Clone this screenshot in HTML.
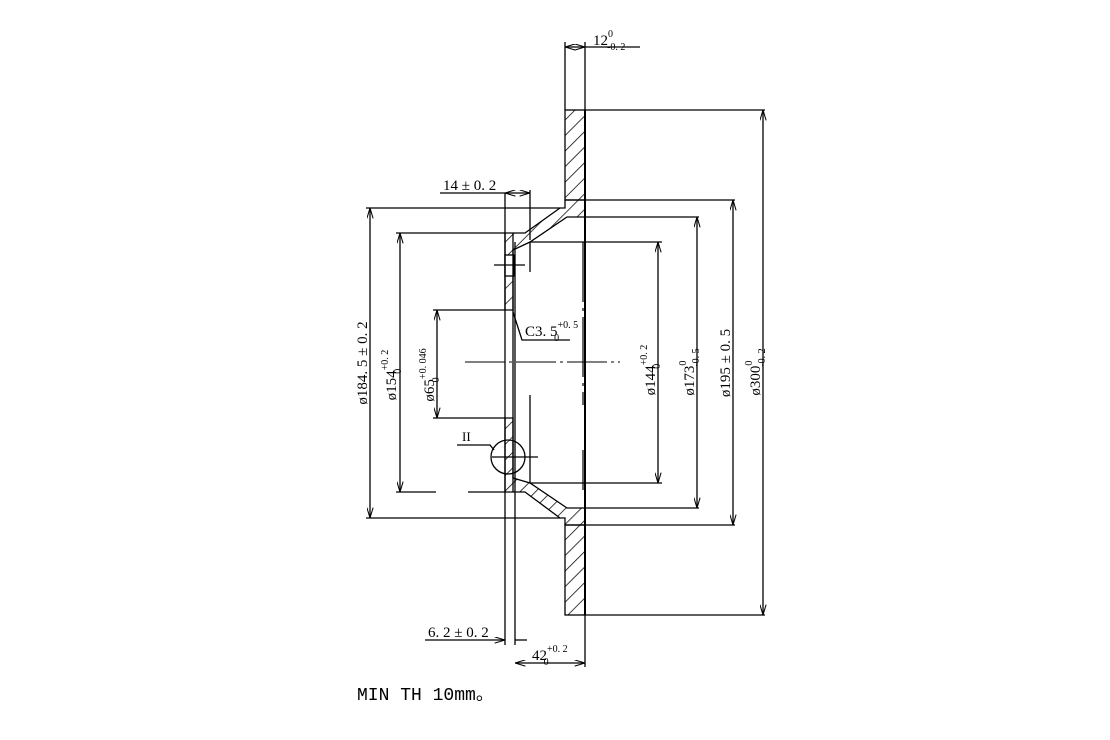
<!DOCTYPE html>
<html><head><meta charset="utf-8"><style>
html,body{margin:0;padding:0;background:#fff;}
svg{display:block;}
text{font-family:"Liberation Serif",serif;fill:#000;}
text.m{font-family:"Liberation Mono",monospace;}
</style></head><body>
<svg width="1110" height="740" viewBox="0 0 1110 740" xmlns="http://www.w3.org/2000/svg">
<defs>
<pattern id="h" width="11" height="11" patternUnits="userSpaceOnUse" patternTransform="rotate(45)">
<line x1="0" y1="0" x2="0" y2="11" stroke="#000" stroke-width="1.5"/>
</pattern>
<marker id="a" viewBox="0 0 10 6" refX="10" refY="3" markerWidth="8" markerHeight="5" orient="auto-start-reverse"><path d="M0,0L10,3L0,6" fill="none" stroke="#000"/></marker>
</defs>
<g stroke="#000" stroke-width="1.3" fill="none">
<rect x="565" y="110" width="20" height="90" fill="url(#h)"/>
<rect x="565" y="525" width="20" height="90" fill="url(#h)"/>
<line x1="585" y1="110" x2="585" y2="615" stroke-width="2"/>
<path d="M565,200 L565,208 L560,208 L525,233 L505,233 L505,310 L513,310 L513,250 L530,242 L567,217 L585,217 L585,200 Z" fill="url(#h)"/>
<path d="M565,525 L565,518 L560,518 L525,492 L505,492 L505,418 L513,418 L513,478 L530,483 L567,508 L585,508 L585,525 Z" fill="url(#h)"/>
<rect x="505" y="255" width="9" height="21" fill="#fff"/>
<line x1="513" y1="233" x2="513" y2="492"/>
<line x1="515" y1="242" x2="515" y2="645"/>
<line x1="505" y1="193" x2="505" y2="645"/>
<line x1="585" y1="110" x2="765" y2="110"/>
<line x1="585" y1="615" x2="765" y2="615"/>
<line x1="585" y1="200" x2="735" y2="200"/>
<line x1="585" y1="525" x2="735" y2="525"/>
<line x1="585" y1="217" x2="699" y2="217"/>
<line x1="585" y1="508" x2="699" y2="508"/>
<line x1="530" y1="242" x2="662" y2="242"/>
<line x1="530" y1="483" x2="662" y2="483"/>
<line x1="366" y1="208" x2="560" y2="208"/>
<line x1="366" y1="518" x2="560" y2="518"/>
<line x1="396" y1="233" x2="505" y2="233"/>
<line x1="396" y1="492" x2="436" y2="492"/>
<line x1="468" y1="492" x2="505" y2="492"/>
<line x1="433" y1="310" x2="505" y2="310"/>
<line x1="433" y1="418" x2="505" y2="418"/>
<line x1="530" y1="242" x2="530" y2="272"/>
<line x1="530" y1="395" x2="530" y2="483"/>
<line x1="763" y1="110" x2="763" y2="615" marker-start="url(#a)" marker-end="url(#a)"/>
<line x1="733" y1="200" x2="733" y2="525" marker-start="url(#a)" marker-end="url(#a)"/>
<line x1="697" y1="217" x2="697" y2="508" marker-start="url(#a)" marker-end="url(#a)"/>
<line x1="658" y1="242" x2="658" y2="483" marker-start="url(#a)" marker-end="url(#a)"/>
<line x1="370" y1="208" x2="370" y2="518" marker-start="url(#a)" marker-end="url(#a)"/>
<line x1="400" y1="233" x2="400" y2="492" marker-start="url(#a)" marker-end="url(#a)"/>
<line x1="437" y1="310" x2="437" y2="418" marker-start="url(#a)" marker-end="url(#a)"/>
<line x1="565" y1="42" x2="565" y2="110"/>
<line x1="585" y1="42" x2="585" y2="110"/>
<line x1="565" y1="47" x2="585" y2="47" marker-start="url(#a)" marker-end="url(#a)"/>
<line x1="585" y1="47" x2="640" y2="47"/>
<line x1="440" y1="193" x2="505" y2="193"/>
<line x1="505" y1="193" x2="530" y2="193" marker-start="url(#a)" marker-end="url(#a)"/>
<line x1="530" y1="190" x2="530" y2="240"/>
<line x1="425" y1="640" x2="505" y2="640" marker-end="url(#a)"/>
<line x1="515" y1="640" x2="527" y2="640"/>
<line x1="585" y1="615" x2="585" y2="667"/>
<line x1="515" y1="663" x2="585" y2="663" marker-start="url(#a)" marker-end="url(#a)"/>
<line x1="465" y1="362" x2="620" y2="362" stroke-width="1" stroke-dasharray="40,4,3,4"/>
<line x1="583" y1="242" x2="583" y2="405" stroke-width="1.2" stroke-dasharray="60,6,3,6"/>
<line x1="583" y1="450" x2="583" y2="490" stroke-width="1.2"/>
<line x1="494" y1="265" x2="525" y2="265"/>
<polyline points="513,312 522,340 570,340"/>
<circle cx="508" cy="457" r="17"/>
<line x1="492" y1="457" x2="538" y2="457"/>
<polyline points="457,445 490,445 494,450"/>
</g>
<g font-size="15">
<text x="593" y="45">12<tspan font-size="10" dy="-8">0</tspan><tspan font-size="10" dx="-6" dy="13">-0. 2</tspan></text>
<text x="443" y="190">14 ± 0. 2</text>
<text x="428" y="637">6. 2 ± 0. 2</text>
<text x="532" y="660">42<tspan font-size="10" dy="-8">+0. 2</tspan><tspan font-size="10" dx="-24" dy="13">0</tspan></text>
<text x="525" y="336">C3. 5<tspan font-size="10" dy="-8">+0. 5</tspan><tspan font-size="10" dx="-24" dy="13">0</tspan></text>
<text x="462" y="441" font-size="13">II</text>
<text transform="translate(367,363) rotate(-90)" text-anchor="middle">ø184. 5 ± 0. 2</text>
<text transform="translate(396,375) rotate(-90)" text-anchor="middle">ø154<tspan font-size="10" dy="-8">+0. 2</tspan><tspan font-size="10" dx="-24" dy="13">0</tspan></text>
<text transform="translate(434,375) rotate(-90)" text-anchor="middle">ø65<tspan font-size="10" dy="-8">+0. 046</tspan><tspan font-size="10" dx="-34" dy="13">0</tspan></text>
<text transform="translate(655,370) rotate(-90)" text-anchor="middle">ø144<tspan font-size="10" dy="-8">+0. 2</tspan><tspan font-size="10" dx="-24" dy="13">0</tspan></text>
<text transform="translate(694,372) rotate(-90)" text-anchor="middle">ø173<tspan font-size="10" dy="-8">0</tspan><tspan font-size="10" dx="-6" dy="13">-0. 5</tspan></text>
<text transform="translate(730,363) rotate(-90)" text-anchor="middle">ø195 ± 0. 5</text>
<text transform="translate(760,372) rotate(-90)" text-anchor="middle">ø300<tspan font-size="10" dy="-8">0</tspan><tspan font-size="10" dx="-6" dy="13">-0. 2</tspan></text>
<text class="m" x="357" y="700" font-size="18">MIN TH 10mm。</text>
</g>
</svg>
</body></html>
